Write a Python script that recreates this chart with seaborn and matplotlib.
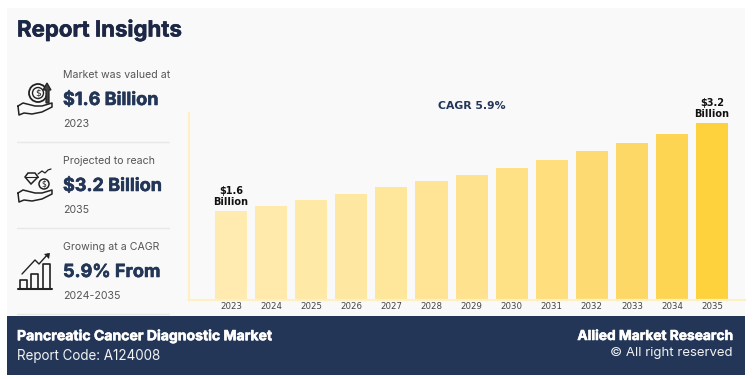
import numpy as np
import pandas as pd
import matplotlib
matplotlib.use('Agg')
import matplotlib.pyplot as plt
import matplotlib.patheffects as pe
from matplotlib.patches import Rectangle, Circle, Polygon
import seaborn as sns

years = ['2023', '2024', '2025', '2026', '2027', '2028', '2029', '2030', '2031', '2032', '2033', '2034', '2035']
values = [1.6, 1.69, 1.80, 1.91, 2.03, 2.15, 2.26, 2.39, 2.53, 2.69, 2.84, 3.0, 3.2]
colors = ['#FFEBB0', '#FFEAAB', '#FEE9A6', '#FEE8A1', '#FEE69B', '#FEE494', '#FEE28D', '#FEE085', '#FEDE7D',
          '#FEDB72', '#FED867', '#FED552', '#FED23C']
stats_top = ['Market was valued at', 'Projected to reach', 'Growing at a CAGR']
stats_mid = ['$1.6 Billion', '$3.2 Billion', '5.9% From']
stats_low = ['2023', '2035', '2024-2035']

W, H = 754, 379
NAVY = '#233657'
INK = '#222222'

sns.set_theme(style='white')
plt.rcParams['font.family'] = ['Inter', 'DejaVu Sans']

fig = plt.figure(figsize=(W / 100, H / 100), dpi=100, facecolor='white')
heavy = [pe.withStroke(linewidth=0.4, foreground='white')]
heavy_navy = [pe.withStroke(linewidth=0.4, foreground=NAVY)]

# 배경 레이어, 좌표는 픽셀 기준
bg = fig.add_axes([0, 0, 1, 1])
bg.set_xlim(0, W)
bg.set_ylim(H, 0)
bg.axis('off')
bg.add_patch(Rectangle((7, 8), 738, 308, fc='#F9F9F9', ec='none'))
bg.add_patch(Rectangle((7, 316), 738, 59, fc=NAVY, ec='none'))

bg.text(17, 30, 'Report Insights', fontsize=16, fontweight='bold', color='#1C2745', va='center',
        path_effects=[pe.withStroke(linewidth=0.4, foreground='#1C2745')])

ys = [75, 161, 247]
for i in range(3):
    y = ys[i]
    bg.text(63, y, stats_top[i], fontsize=7.6, color='#555555', va='center')
    bg.text(63, y + 25.5, stats_mid[i], fontsize=13, fontweight='bold', color=NAVY, va='center', path_effects=heavy_navy)
    bg.text(63, y + 49, stats_low[i], fontsize=7.6, color='#555555', va='center')
for y in [142, 228, 314]:
    bg.plot([17, 169], [y, y], color='#E8E8E8', lw=1)

bg.text(17, 336, 'Pancreatic Cancer Diagnostic Market', fontsize=10.1, fontweight='bold', color='white', va='center', path_effects=heavy)
bg.text(17, 356, 'Report Code: A124008', fontsize=9.7, color='#F2F2F2', va='center')
bg.text(733, 336, 'Allied Market Research', fontsize=9.9, fontweight='bold', color='white', va='center', ha='right', path_effects=heavy)
bg.text(733, 353, '© All right reserved', fontsize=9.5, color='#F2F2F2', va='center', ha='right')


def hand(ox, oy):
    bg.plot(np.array([0, 5, 9, 17, 24, 34, 34, 24, 14, 6, 1, 0]) + ox,
            np.array([3, 0, 1, 3, 3, 0, 4, 9, 11, 10, 12, 3]) + oy, color=INK, lw=1.1)


# 아이콘 1
hand(18, 103)
bg.add_patch(Circle((38, 93), 9, fc='none', ec=INK, lw=1.3))
bg.add_patch(Circle((38, 93), 5.5, fc='none', ec=INK, lw=1))
bg.text(38, 93, '$', fontsize=6.5, color=INK, ha='center', va='center', family='DejaVu Sans')
bg.add_patch(Polygon([[43, 90], [47, 83], [51, 90], [49, 90], [49, 103], [46, 103], [46, 90]], fc='#444444', ec=INK, lw=0.9))

# 아이콘 2
hand(18, 190)
bg.add_patch(Polygon([[25, 177], [28, 173], [35, 173], [38, 177], [31, 184]], fc='none', ec=INK, lw=1.1))
bg.plot([25, 38], [177, 177], color=INK, lw=0.8)
bg.add_patch(Circle((44, 184), 5, fc='none', ec=INK, lw=1.1))
bg.text(44, 184, '$', fontsize=5.5, color=INK, ha='center', va='center', family='DejaVu Sans')
bg.plot([38, 42, 45, 48, 51], [174, 171, 173, 170, 169], color=INK, lw=0.9)

# 아이콘 3
for bx, bt in [(20, 280), (31, 274), (43, 264)]:
    bg.plot([bx, bx, bx + 7, bx + 7], [288, bt, bt, 288], color=INK, lw=1.2)
bg.plot([18, 52], [288.5, 288.5], color=INK, lw=1.5)
bg.plot([22, 35, 39, 48], [274, 260, 264, 254], color=INK, lw=1)
bg.add_patch(Polygon([[44, 254], [50, 253], [49, 259]], fc=INK, ec='none'))

# 막대 차트
ax = fig.add_axes([189 / W, 1 - 299.5 / H, (745 - 189) / W, 186.5 / H])
ax.patch.set_alpha(0)
df = pd.DataFrame({'year': years, 'value': values})
sns.barplot(data=df, x='year', y='value', hue='year', palette=colors, legend=False, width=0.8, saturation=1,
            linewidth=0, ax=ax)
ax.set_xlim(-1.048, 12.82)
ax.set_ylim(0, 3.38)
ax.set_xlabel('')
ax.set_ylabel('')
ax.set_yticks([])
ax.tick_params(axis='x', length=0, pad=2, labelsize=6.2, labelcolor='#444444')
for lab in ax.get_xticklabels():
    lab.set_family('DejaVu Sans')
sns.despine(ax=ax)
for s in ['left', 'bottom']:
    ax.spines[s].set_color('#FEF0C4')
    ax.spines[s].set_linewidth(1.6)

ax.text(0, values[0] + 0.07, f'${values[0]}\nBillion', ha='center', va='bottom', fontsize=7, fontweight='bold',
        color='#111111', family='DejaVu Sans', linespacing=1.15)
ax.text(12, values[-1] + 0.07, f'${values[-1]}\nBillion', ha='center', va='bottom', fontsize=7, fontweight='bold',
        color='#111111', family='DejaVu Sans', linespacing=1.15)
bg.text(471.5, 106, 'CAGR 5.9%', ha='center', va='center', fontsize=7.8, fontweight='bold', color=NAVY, family='DejaVu Sans')

fig.savefig('out.png', dpi=100, facecolor='white')
